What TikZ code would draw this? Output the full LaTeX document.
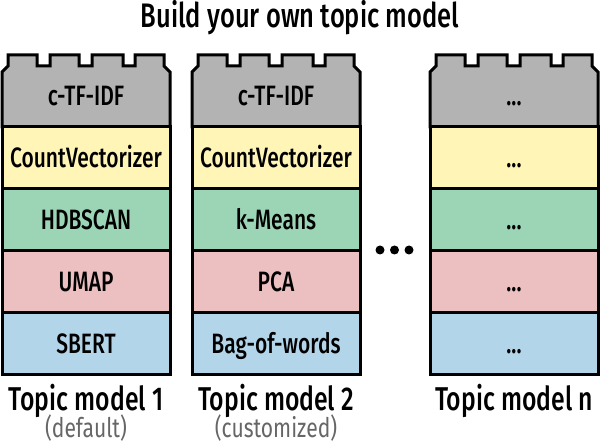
\documentclass[tikz,border=0pt]{standalone}
\usepackage{fontspec}
\setmainfont{Fira Sans}[FakeStretch=0.78]
\newfontfamily\medfont{Fira Sans Medium}[FakeStretch=0.75]
\definecolor{topgray}{RGB}{179,179,179}
\definecolor{vecyellow}{RGB}{255,245,182}
\definecolor{clgreen}{RGB}{156,213,182}
\definecolor{redpink}{RGB}{236,191,193}
\definecolor{embblue}{RGB}{179,213,234}
\newcommand{\tbd}{...}
\tikzset{
  layer/.style={draw,line width=3pt,minimum width=168pt,minimum height=62pt,inner sep=0pt},
  layertxt/.style={font=\medfont\fontsize{28}{30}\selectfont,anchor=base},
  modelname/.style={font=\medfont\fontsize{33}{36}\selectfont,anchor=base},
  modelsub/.style={font=\fontsize{27}{29}\selectfont,text=black!60,anchor=base}
}
\begin{document}
\begin{tikzpicture}[x=1pt,y=-1pt]
\useasboundingbox (0,0) rectangle (600,446);
\node[modelname,font=\medfont\fontsize{34}{36}\selectfont] (title) at (300,28) {Build your own topic model};
\foreach \i/\L/\n/\a/\b/\c/\d/\e in {1/2/1/c-TF-IDF/CountVectorizer/HDBSCAN/UMAP/SBERT,
  2/192/2/c-TF-IDF/CountVectorizer/k-Means/PCA/Bag-of-words,
  3/430/n/\tbd/\tbd/\tbd/\tbd/\tbd}{
  \draw[line width=3pt,fill=topgray,line join=miter] (\L,127) -- ++(0,-55) -- ++(6,-6) -- ++(0,-11)
    -- ++(29,0) -- ++(0,11) -- ++(13,0) -- ++(0,-11) -- ++(29,0) -- ++(0,11) -- ++(13,0)
    -- ++(0,-11) -- ++(31,0) -- ++(0,11) -- ++(12,0) -- ++(0,-11) -- ++(29,0) -- ++(0,11)
    -- ++(6,6) -- ++(0,55) -- cycle;
  \node[layertxt] (c\i t) at (\L+84,106) {\a};
  \node[layer,fill=vecyellow] (c\i y) at (\L+84,158) {};
  \node[layer,fill=clgreen] (c\i g) at (\L+84,220) {};
  \node[layer,fill=redpink] (c\i r) at (\L+84,282) {};
  \node[layer,fill=embblue] (c\i b) at (\L+84,344) {};
  \node[layertxt] at (\L+84,168) {\b};
  \node[layertxt] at (\L+84,230) {\c};
  \node[layertxt] at (\L+84,292) {\d};
  \node[layertxt] at (\L+84,354) {\e};
  \node[modelname] (c\i lab) at (\L+84,410) {Topic model \n};
}
\node[modelsub] (c1sub) at (86,437) {(default)};
\node[modelsub] (c2sub) at (276,437) {(customized)};
\foreach \x in {380,394.5,409}
  \fill (\x,250) circle (4.5);
\end{tikzpicture}
\end{document}
